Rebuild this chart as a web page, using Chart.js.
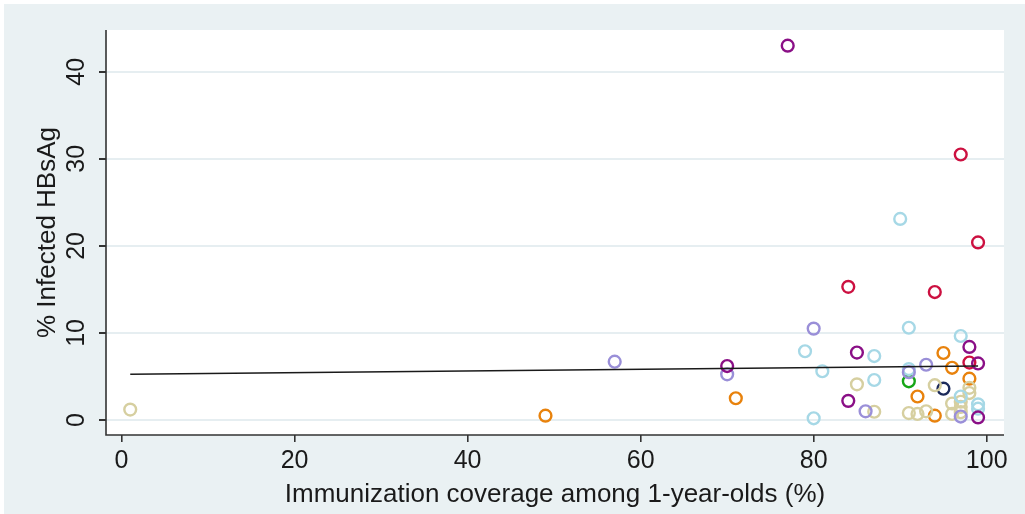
<!DOCTYPE html>
<html>
<head>
<meta charset="utf-8">
<script src="https://cdn.jsdelivr.net/npm/chart.js@4/dist/chart.umd.min.js"></script>
<style>
  html, body { margin: 0; padding: 0; background: #ffffff; }
  #wrap { width: 1025px; height: 514px; position: relative; }
</style>
</head>
<body>
<div id="wrap"><canvas id="chart" width="1025" height="514"></canvas></div>
<script>
// Immunization coverage (%) vs. HBsAg prevalence (%), grouped by region colour
const purpleX = [77, 70, 85, 84, 98, 99, 99];
const purpleY = [43.0, 6.2, 7.75, 2.2, 8.4, 6.5, 0.3];

const crimsonX = [97, 99, 84, 94, 98];
const crimsonY = [30.5, 20.4, 15.3, 14.7, 6.6];

const lavenderX = [57, 70, 80, 86, 93, 91, 97];
const lavenderY = [6.7, 5.25, 10.5, 1.0, 6.35, 5.5, 0.4];

const lightBlueX = [90, 79, 87, 81, 87, 80, 91, 97, 91, 97, 99, 99];
const lightBlueY = [23.1, 7.9, 7.35, 5.6, 4.6, 0.2, 10.6, 9.65, 5.85, 2.7, 1.8, 1.3];

const tanX = [1, 85, 87, 94, 98, 98, 97, 96, 97, 91, 92, 93, 96, 97];
const tanY = [1.2, 4.1, 0.95, 4.0, 3.7, 3.1, 2.1, 1.9, 1.5, 0.8, 0.7, 1.0, 0.7, 0.9];

const orangeX = [49, 71, 95, 96, 98, 92, 94];
const orangeY = [0.5, 2.5, 7.7, 6.0, 4.75, 2.7, 0.5];

const greenX = [91];
const greenY = [4.45];

const navyX = [95];
const navyY = [3.6];

// Fitted linear trend
const fitX = [1, 99];
const fitY = [5.26, 6.21];

const xTicks = [0, 20, 40, 60, 80, 100];
const yTicks = [0, 10, 20, 30, 40];

const xTitle = 'Immunization coverage among 1-year-olds (%)';
const yTitle = '% Infected HBsAg';

const toPoints = (xs, ys) => xs.map((x, i) => ({ x: x, y: ys[i] }));

const groups = [
  { x: purpleX, y: purpleY, color: '#8a0f86' },
  { x: crimsonX, y: crimsonY, color: '#cc1040' },
  { x: lavenderX, y: lavenderY, color: '#9a8fd8' },
  { x: lightBlueX, y: lightBlueY, color: '#a6d8e6' },
  { x: tanX, y: tanY, color: '#d6cfa0' },
  { x: orangeX, y: orangeY, color: '#e8820c' },
  { x: greenX, y: greenY, color: '#16a616' },
  { x: navyX, y: navyY, color: '#1c2a5a' }
];

const datasets = groups.map(g => ({
  type: 'scatter',
  data: toPoints(g.x, g.y),
  borderColor: g.color,
  backgroundColor: 'rgba(0,0,0,0)',
  pointRadius: 5.9,
  pointHoverRadius: 5.9,
  borderWidth: 2.4,
  pointStyle: 'circle',
  order: 1
}));

datasets.push({
  type: 'line',
  data: toPoints(fitX, fitY),
  borderColor: '#1a1a1a',
  borderWidth: 1.6,
  pointRadius: 0,
  fill: false,
  tension: 0,
  order: 0
});

const FONT = '"Liberation Sans", Arial, sans-serif';

// Backgrounds: outer panel tint and white plot region
const backdrop = {
  id: 'backdrop',
  beforeDraw(chart) {
    const { ctx, chartArea: a } = chart;
    ctx.save();
    ctx.fillStyle = '#ffffff';
    ctx.fillRect(0, 0, chart.width, chart.height);
    ctx.fillStyle = '#eaf1f3';
    ctx.fillRect(4, 4, chart.width - 4, chart.height - 4);
    ctx.fillStyle = '#ffffff';
    ctx.fillRect(a.left, a.top, a.right - a.left, a.bottom - a.top);
    ctx.restore();
  }
};

// Vertical y tick labels and axis lines
const yLabels = {
  id: 'yLabels',
  afterDraw(chart) {
    const { ctx, chartArea: a } = chart;
    const ys = chart.scales.y;
    ctx.save();
    ctx.fillStyle = '#1a1a1a';
    ctx.font = '25px ' + FONT;
    ctx.textAlign = 'center';
    ctx.textBaseline = 'middle';
    yTicks.forEach(v => {
      const py = ys.getPixelForValue(v);
      ctx.save();
      ctx.translate(76, py);
      ctx.rotate(-Math.PI / 2);
      ctx.fillText(String(v), 0, 1);
      ctx.restore();
    });
    ctx.strokeStyle = '#333333';
    ctx.lineWidth = 1.6;
    ctx.beginPath();
    ctx.moveTo(a.left, a.top);
    ctx.lineTo(a.left, a.bottom);
    ctx.lineTo(a.right, a.bottom);
    ctx.stroke();
    ctx.restore();
  }
};

new Chart(document.getElementById('chart'), {
  data: { datasets: datasets },
  options: {
    responsive: false,
    animation: false,
    layout: { padding: { top: 30, right: 21, left: 0, bottom: 0 } },
    plugins: { legend: { display: false }, tooltip: { enabled: false } },
    scales: {
      x: {
        type: 'linear',
        min: -1.8,
        max: 102.0,
        afterBuildTicks: s => { s.ticks = xTicks.map(v => ({ value: v })); },
        afterFit: s => { s.height = 79; },
        border: { display: false },
        grid: { drawOnChartArea: false, drawTicks: true, tickLength: 7, tickColor: '#333333', lineWidth: 1.6 },
        ticks: {
          color: '#1a1a1a',
          font: { family: FONT, size: 25 },
          padding: 4,
          maxRotation: 0,
          minRotation: 0,
          callback: v => String(v)
        },
        title: {
          display: true,
          text: xTitle,
          color: '#1a1a1a',
          font: { family: FONT, size: 26 },
          padding: { top: 0, bottom: 4 }
        }
      },
      y: {
        type: 'linear',
        min: -1.72,
        max: 44.8,
        afterBuildTicks: s => { s.ticks = yTicks.map(v => ({ value: v })); },
        afterFit: s => { s.width = 106; },
        border: { display: false },
        grid: { color: '#e6eef1', lineWidth: 2, drawTicks: true, tickLength: 7, tickColor: '#333333' },
        ticks: { display: false },
        title: {
          display: true,
          text: yTitle,
          color: '#1a1a1a',
          font: { family: FONT, size: 26 },
          padding: { top: 32, bottom: 0 }
        }
      }
    }
  },
  plugins: [backdrop, yLabels]
});
</script>
</body>
</html>
